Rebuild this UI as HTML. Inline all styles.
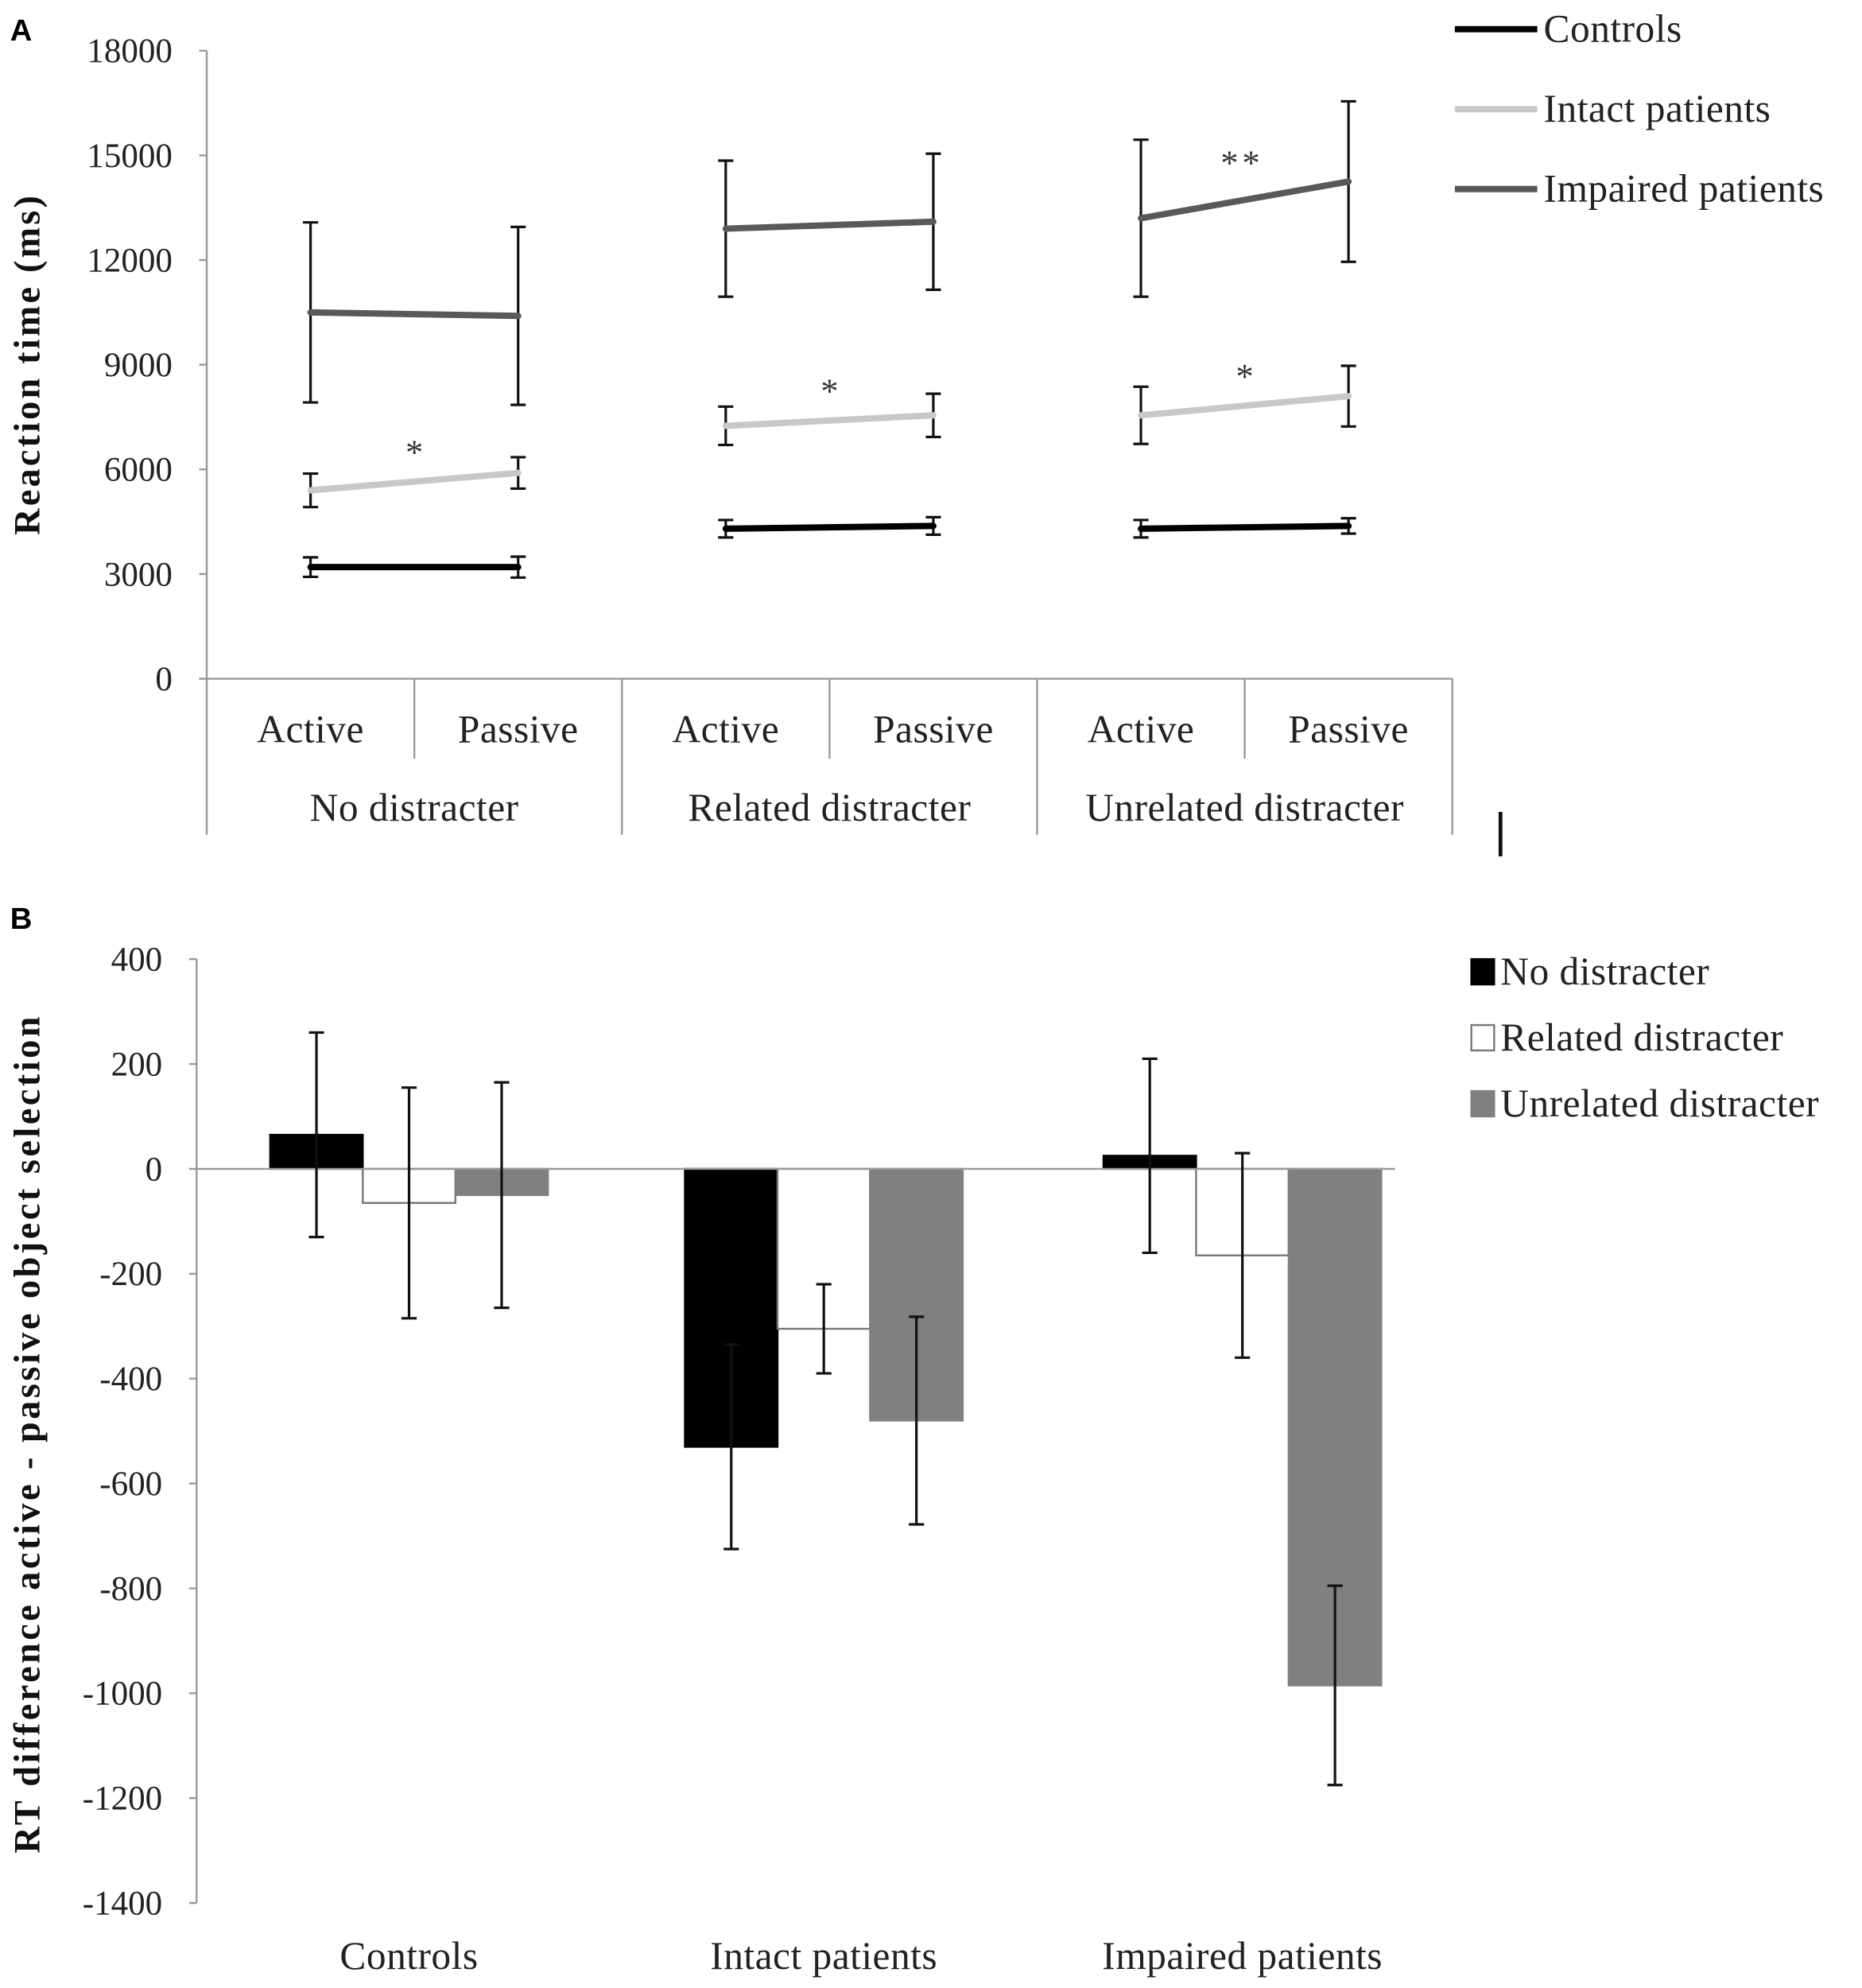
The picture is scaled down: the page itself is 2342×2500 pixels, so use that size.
<!DOCTYPE html>
<html><head><meta charset="utf-8"><style>
html,body{margin:0;padding:0;background:#fff;}
svg{display:block;font-family:"Liberation Serif",serif;}
</style></head><body>
<svg id="chart" width="2342" height="2500" viewBox="0 0 1468 1567" preserveAspectRatio="none" xmlns="http://www.w3.org/2000/svg">
<rect width="1468" height="1567" fill="#fff"/>
<g id="pa"></g>
<g id="pb"></g>
</svg>
<script>
// Panel A data
const aGroups = ["No distracter","Related distracter","Unrelated distracter"];
const aConds = ["Active","Passive"];
const aSeries = ["Controls","Intact patients","Impaired patients"];
const aControls = [3200,3200,4300,4380,4300,4380];
const aControlsErr = [280,300,250,250,250,220];
const aIntact = [5400,5900,7250,7550,7550,8100];
const aIntactErr = [480,450,550,620,820,870];
const aImpaired = [10500,10400,12900,13100,13200,14250];
const aImpairedErr = [2580,2550,1950,1950,2250,2300];
const aTicks = [0,3000,6000,9000,12000,15000,18000];
// Panel B data
const bGroups = ["Controls","Intact patients","Impaired patients"];
const bSeries = ["No distracter","Related distracter","Unrelated distracter"];
const bNo = [65,-530,25];
const bNoErr = [195,195,185];
const bRel = [-65,-305,-165];
const bRelErr = [220,85,195];
const bUnrel = [-50,-480,-985];
const bUnrelErr = [215,198,190];
const bTicks = [400,200,0,-200,-400,-600,-800,-1000,-1200,-1400];

const NS="http://www.w3.org/2000/svg";
function mk(parent,tag,attrs,text){const e=document.createElementNS(NS,tag);for(const k in attrs)e.setAttribute(k,attrs[k]);if(text!==undefined)e.textContent=text;parent.appendChild(e);return e;}
const LBL={'font-size':31,'letter-spacing':0.3,fill:'#222'};
function lbl(o){return Object.assign({},LBL,o);}

// ---- Panel A ----
const pa=document.getElementById('pa');
const ax0=163, ax1=1145, ayTop=40, ayBot=535;
const yA=v=>ayBot-(v/18000)*(ayBot-ayTop);
const slotW=(ax1-ax0)/6;
const xA=i=>ax0+slotW*(i+0.5);
let t=mk(pa,'text',{x:8,y:32,'font-family':'Liberation Sans, sans-serif','font-weight':'bold','font-size':24},'A');

let l=mk(pa,'line',{x1:ax0,y1:ayTop,x2:ax0,y2:ayBot,stroke:'#999','stroke-width':1.5});

aTicks.forEach(v=>{
  const tk=mk(pa,'line',{x1:ax0-6,y1:yA(v),x2:ax0,y2:yA(v),stroke:'#999','stroke-width':1.5});
  
  const tl=mk(pa,'text',{x:ax0-27,y:yA(v)+9,'text-anchor':'end','font-size':27,fill:'#222'},String(v));
  
});
l=mk(pa,'line',{x1:ax0-6,y1:ayBot,x2:ax1,y2:ayBot,stroke:'#999','stroke-width':1.5});

for(let i=0;i<=6;i++){
  const x=ax0+slotW*i;
  const bottom=(i%2===0)?658:598;
  const d=mk(pa,'line',{x1:x,y1:ayBot,x2:x,y2:bottom,stroke:'#999','stroke-width':1.5});
  
}
for(let i=0;i<6;i++){
  const c=mk(pa,'text',lbl({x:xA(i),y:585,'text-anchor':'middle'}),aConds[i%2]);
  
}
aGroups.forEach((g,gi)=>{
  const c=mk(pa,'text',lbl({x:ax0+slotW*(2*gi+1),y:647,'text-anchor':'middle'}),g);
  
});
l=mk(pa,'line',{x1:1183,y1:640,x2:1183,y2:675,stroke:'#111','stroke-width':3});

const ytitle=mk(pa,'text',{x:0,y:0,transform:'translate(31,287) rotate(-90)','text-anchor':'middle','font-weight':'bold','font-size':29,'letter-spacing':2,fill:'#111'},'Reaction time (ms)');


const aData=[[aControls,aControlsErr,'#000'],[aIntact,aIntactErr,'#c8c8c8'],[aImpaired,aImpairedErr,'#595959']];
aData.forEach(([vals,errs,col],si)=>{
  for(let g=0;g<3;g++){
    const i0=2*g,i1=2*g+1;
    [i0,i1].forEach(i=>{
      const x=xA(i);
      const eb=mk(pa,'path',{d:`M${x},${yA(vals[i]-errs[i])}V${yA(vals[i]+errs[i])}M${x-6},${yA(vals[i]-errs[i])}h12M${x-6},${yA(vals[i]+errs[i])}h12`,stroke:'#111','stroke-width':2,fill:'none'});
      
    });
    const ln=mk(pa,'line',{x1:xA(i0),y1:yA(vals[i0]),x2:xA(i1),y2:yA(vals[i1]),stroke:col,'stroke-width':5,'stroke-linecap':'round'});
    
  }
});
for(let g=0;g<3;g++){
  const mx=(xA(2*g)+xA(2*g+1))/2;
  const my=(yA(aIntact[2*g])+yA(aIntact[2*g+1]))/2-22;
  const s=mk(pa,'text',{x:mx,y:my+8,'text-anchor':'middle','font-size':28,fill:'#333'},'*');
  
}
{const mx=(xA(4)+xA(5))/2;const my=(yA(aImpaired[4])+yA(aImpaired[5]))/2-30;
 const s=mk(pa,'text',{x:mx-2,y:my+10,'text-anchor':'middle','font-size':28,'letter-spacing':3,fill:'#333'},'**');
 }
aData.forEach(([v,e,col],si)=>{
  const y=23+63*si;
  const ll=mk(pa,'line',{x1:1147,y1:y,x2:1212,y2:y,stroke:col,'stroke-width':5});
  
  const lt=mk(pa,'text',lbl({x:1217,y:y+10}),aSeries[si]);
  
});

// ---- Panel B ----
const pb=document.getElementById('pb');
const bx0=155, bx1=1100, byTop=756, byBot=1500;
const yB=v=>byTop+(400-v)/1800*(byBot-byTop);
const groupCenters=[322.5,649.5,979.5];
const bw=73;
t=mk(pb,'text',{x:8,y:732,'font-family':'Liberation Sans, sans-serif','font-weight':'bold','font-size':24},'B');

l=mk(pb,'line',{x1:bx0,y1:byTop,x2:bx0,y2:byBot,stroke:'#999','stroke-width':1.5});

bTicks.forEach(v=>{
  const tk=mk(pb,'line',{x1:bx0-6,y1:yB(v),x2:bx0,y2:yB(v),stroke:'#999','stroke-width':1.5});
  
  const tl=mk(pb,'text',{x:bx0-27,y:yB(v)+9,'text-anchor':'end','font-size':27,fill:'#222'},String(v));
  
});
const yt2=mk(pb,'text',{x:0,y:0,transform:'translate(31,1130) rotate(-90)','text-anchor':'middle','font-weight':'bold','font-size':29,'letter-spacing':2.2,fill:'#111'},'RT difference active - passive object selection');

const bData=[[bNo,bNoErr,'#000','#000'],[bRel,bRelErr,'#fff','#777'],[bUnrel,bUnrelErr,'#808080','#808080']];
bData.forEach(([vals,errs,fill,stroke],si)=>{
  groupCenters.forEach((gc,g)=>{
    const x=gc+(si-1)*bw;
    const v=vals[g];
    const r=mk(pb,'rect',{x:x-bw/2,y:Math.min(yB(v),yB(0)),width:bw,height:Math.abs(yB(v)-yB(0)),fill:fill,stroke:stroke,'stroke-width':1.5});
    
  });
});
l=mk(pb,'line',{x1:bx0,y1:yB(0),x2:bx1,y2:yB(0),stroke:'#999','stroke-width':1.5});

bData.forEach(([vals,errs],si)=>{
  groupCenters.forEach((gc,g)=>{
    const x=gc+(si-1)*bw;const v=vals[g],e=errs[g];
    const eb=mk(pb,'path',{d:`M${x},${yB(v-e)}V${yB(v+e)}M${x-6},${yB(v-e)}h12M${x-6},${yB(v+e)}h12`,stroke:'#111','stroke-width':2,fill:'none'});
    
  });
});
bGroups.forEach((g,gi)=>{
  const c=mk(pb,'text',lbl({x:groupCenters[gi],y:1552,'text-anchor':'middle'}),g);
  
});
bData.forEach(([v,e,fill,stroke],si)=>{
  const y=766+52*si;
  const sq=mk(pb,'rect',{x:1160,y:y-10,width:18,height:20,fill:fill,stroke:stroke,'stroke-width':1.5});
  
  const lt=mk(pb,'text',lbl({x:1183,y:y+10}),bSeries[si]);
  
});
</script>
</body></html>
